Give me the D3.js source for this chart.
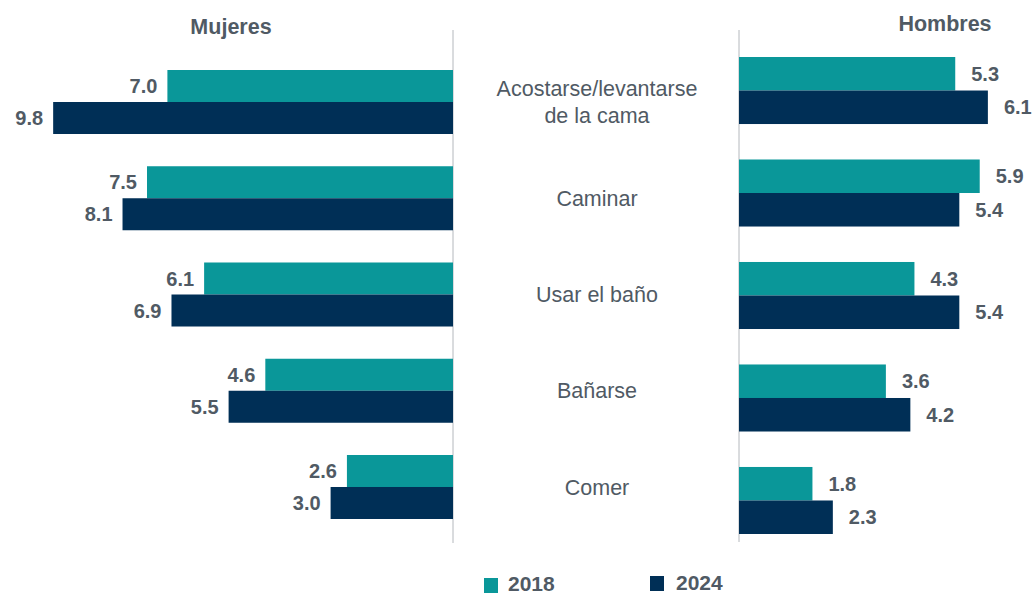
<!DOCTYPE html>
<html>
<head>
<meta charset="utf-8">
<script src="https://cdn.jsdelivr.net/npm/d3@7"></script>
<style>
	body { margin: 0; background: #fff; }
	svg { display: block; font-family: Arial, 'Liberation Sans', sans-serif; }
	.val { font-size: 20px; font-weight: bold; fill: #505a64; }
	.cat { font-size: 21.5px; fill: #505a64; }
	.title { font-size: 21.5px; font-weight: bold; fill: #505a64; }
	.leg { font-size: 21px; font-weight: bold; fill: #505a64; }
</style>
</head>
<body>
<svg></svg>
<script>
const categories = ['Acostarse/levantarse de la cama', 'Caminar', 'Usar el baño', 'Bañarse', 'Comer']
const catLines = [['Acostarse/levantarse', 'de la cama'], ['Caminar'], ['Usar el baño'], ['Bañarse'], ['Comer']]
const years = ['2018', '2024']
const mujeres2018 = [7.0, 7.5, 6.1, 4.6, 2.6]
const mujeres2024 = [9.8, 8.1, 6.9, 5.5, 3.0]
const hombres2018 = [5.3, 5.9, 4.3, 3.6, 1.8]
const hombres2024 = [6.1, 5.4, 5.4, 4.2, 2.3]
const colors = ['#0a9799', '#002f56']

let w = 1034, h = 594
let svg = d3.select('svg').attr('width', w).attr('height', h)

let axL = 453, axR = 739
let pxPerUnit = 40.8

// left panel grows leftward from axL
let xL = d3.scaleLinear().domain([0, 10]).range([axL, axL - 10 * pxPerUnit])
let xR = d3.scaleLinear().domain([0, 10]).range([axR, axR + 10 * pxPerUnit])

let yL = d3.scaleBand().domain(categories).range([70, 519]).paddingInner(0.335).paddingOuter(0)
let yR = d3.scaleBand().domain(categories).range([57, 534]).paddingInner(0.346).paddingOuter(0)
let subL = d3.scaleBand().domain(years).range([0, yL.bandwidth()])
let subR = d3.scaleBand().domain(years).range([0, yR.bandwidth()])

const rows = (a, b) => categories.flatMap((c, i) => [
	{ cat: c, year: '2018', v: a[i] },
	{ cat: c, year: '2024', v: b[i] }
])

let left = rows(mujeres2018, mujeres2024)
let right = rows(hombres2018, hombres2024)

// axis lines
svg.append('line').attr('x1', axL).attr('x2', axL).attr('y1', 30).attr('y2', 543)
	.attr('stroke', '#b4b8bd').attr('stroke-width', 1)
svg.append('line').attr('x1', axR).attr('x2', axR).attr('y1', 30).attr('y2', 542)
	.attr('stroke', '#b4b8bd').attr('stroke-width', 1)

// left bars
svg.append('g').selectAll('rect')
	.data(left).enter()
	.append('rect')
	.attr('x', d => xL(d.v))
	.attr('y', d => yL(d.cat) + subL(d.year))
	.attr('width', d => xL(0) - xL(d.v))
	.attr('height', subL.bandwidth())
	.attr('fill', d => colors[years.indexOf(d.year)])

svg.append('g').selectAll('text')
	.data(left).enter()
	.append('text')
	.classed('val', true)
	.attr('x', d => xL(d.v) - 10)
	.attr('y', d => yL(d.cat) + subL(d.year) + subL.bandwidth() / 2)
	.attr('dy', '0.36em')
	.attr('text-anchor', 'end')
	.text(d => d.v.toFixed(1))

// right bars
svg.append('g').selectAll('rect')
	.data(right).enter()
	.append('rect')
	.attr('x', xR(0))
	.attr('y', d => yR(d.cat) + subR(d.year))
	.attr('width', d => xR(d.v) - xR(0))
	.attr('height', subR.bandwidth())
	.attr('fill', d => colors[years.indexOf(d.year)])

svg.append('g').selectAll('text')
	.data(right).enter()
	.append('text')
	.classed('val', true)
	.attr('x', d => xR(d.v) + 16)
	.attr('y', d => yR(d.cat) + subR(d.year) + subR.bandwidth() / 2)
	.attr('dy', '0.36em')
	.text(d => d.v.toFixed(1))

// category labels in the middle
let cats = svg.append('g').selectAll('text')
	.data(categories).enter()
	.append('text')
	.classed('cat', true)
	.attr('text-anchor', 'middle')
	.attr('x', 597)
	.attr('y', d => yL(d) + yL.bandwidth() / 2)

cats.each(function(d, i) {
	let lines = catLines[i]
	let lh = 27
	let t = d3.select(this)
	lines.forEach((l, j) => {
		t.append('tspan')
		.attr('x', 597)
		.attr('dy', j == 0 ? (0.36 * 21.5 - (lines.length - 1) * lh / 2) + 'px' : lh + 'px')
		.text(l)
	})
})

// titles
svg.append('text').classed('title', true).attr('text-anchor', 'middle')
	.attr('x', 231).attr('y', 34).text('Mujeres')
svg.append('text').classed('title', true).attr('text-anchor', 'middle')
	.attr('x', 945).attr('y', 31).text('Hombres')

// legend
let leg = [{ x: 484, y: 578, ty: 591 }, { x: 650, y: 576, ty: 590 }]
years.forEach((yr, i) => {
	svg.append('rect').attr('x', leg[i].x).attr('y', leg[i].y)
		.attr('width', 14).attr('height', 15).attr('fill', colors[i])
	svg.append('text').classed('leg', true)
		.attr('x', leg[i].x + (i == 0 ? 24 : 26)).attr('y', leg[i].ty).text(yr)
})
</script>
</body>
</html>
